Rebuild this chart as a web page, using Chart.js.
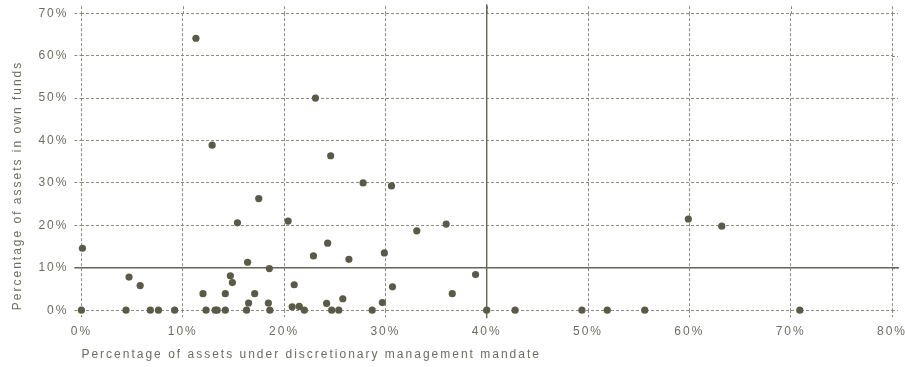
<!DOCTYPE html>
<html>
<head>
<meta charset="utf-8">
<script src="https://cdn.jsdelivr.net/npm/chart.js@4/dist/chart.umd.min.js"></script>
<style>
  html, body { margin: 0; padding: 0; background: #ffffff; }
  canvas { display: block; }
</style>
</head>
<body>
<canvas id="c" width="905" height="367"></canvas>
<script>
// Share of assets under discretionary management mandate (%), one entry per firm
const discretionaryShare = [
  0, 4.4, 6.8, 7.6, 9.2, 12.3, 13.2, 13.4, 14.2, 16.3, 18.6, 22.0, 24.7, 25.4,
  28.7, 40.0, 42.8, 49.4, 51.9, 55.6, 70.9,
  0.1, 4.7, 5.8, 11.3, 12.0, 12.9, 14.2, 14.7, 14.9, 15.4, 16.4, 16.5, 17.1,
  17.5, 18.45, 18.55, 20.4, 20.8, 21.0, 21.5, 22.9, 23.1, 24.2, 24.3, 24.6,
  25.8, 26.4, 27.8, 29.7, 29.9, 30.6, 30.7, 33.1, 36.0, 36.6, 38.9, 59.9, 63.2
];
// Share of assets invested in the firm's own funds (%), same order
const ownFundsShare = [
  0, 0, 0, 0, 0, 0, 0, 0, 0, 0, 0, 0, 0, 0,
  0, 0, 0, 0, 0, 0, 0,
  14.6, 7.8, 5.8, 64.1, 3.9, 38.9, 3.9, 8.1, 6.5, 20.6, 11.3, 1.7, 3.9,
  26.3, 1.7, 9.8, 21.0, 0.8, 6.0, 0.9, 12.8, 50.0, 1.6, 15.8, 36.4,
  2.7, 12.0, 30.0, 1.8, 13.5, 29.3, 5.5, 18.7, 20.3, 3.9, 8.4, 21.5, 19.8
];
// Reference thresholds drawn as solid lines
const xThreshold = 40;
const yThreshold = 10;

const points = discretionaryShare.map((x, i) => ({ x: x, y: ownFundsShare[i] }));

const ink = '#5a5a47';
const textColor = '#6c6c60';
const gridColor = '#8c8c7c';
const lineColor = '#66665a';
const dash = [3, 2];

// Wide tracking for all chart text (set before measuring and before drawing)
const tracking = {
  id: 'tracking',
  beforeUpdate(chart) { chart.ctx.letterSpacing = '2px'; },
  beforeDraw(chart) { chart.ctx.letterSpacing = '2px'; }
};

// Grid overshoot past the top and right edges, plus the solid threshold lines
const thresholdLines = {
  id: 'thresholdLines',
  beforeDatasetsDraw(chart) {
    const { ctx, chartArea, scales } = chart;
    ctx.save();
    ctx.lineWidth = 1;
    ctx.strokeStyle = gridColor;
    ctx.setLineDash(dash);
    ctx.beginPath();
    scales.x.ticks.forEach(t => {
      const px = Math.round(scales.x.getPixelForValue(t.value)) + 0.5;
      ctx.moveTo(px, chartArea.top - 7);
      ctx.lineTo(px, chartArea.top);
    });
    scales.y.ticks.forEach(t => {
      const py = Math.round(scales.y.getPixelForValue(t.value)) + 0.5;
      ctx.moveTo(chartArea.right, py);
      ctx.lineTo(chartArea.right + 6, py);
    });
    ctx.stroke();

    const xp = scales.x.getPixelForValue(xThreshold);
    const yp = scales.y.getPixelForValue(yThreshold);
    ctx.strokeStyle = lineColor;
    ctx.lineWidth = 1.4;
    ctx.setLineDash([]);
    ctx.beginPath();
    ctx.moveTo(xp, chartArea.top - 9);
    ctx.lineTo(xp, chartArea.bottom + 8);
    ctx.moveTo(chartArea.left - 7, yp);
    ctx.lineTo(chartArea.right + 7, yp);
    ctx.stroke();
    ctx.restore();
  }
};

Chart.defaults.font.family = '"Liberation Sans", Arial, Helvetica, sans-serif';
Chart.defaults.font.size = 12;
Chart.defaults.color = textColor;

new Chart(document.getElementById('c'), {
  type: 'scatter',
  data: {
    datasets: [{
      data: points,
      backgroundColor: ink,
      borderColor: ink,
      pointRadius: 3.6,
      pointHoverRadius: 3.6,
      borderWidth: 0,
      clip: false
    }]
  },
  options: {
    responsive: false,
    devicePixelRatio: 1,
    animation: false,
    layout: { padding: { top: 8, right: 0, left: 10, bottom: 0 } },
    plugins: {
      legend: { display: false },
      tooltip: { enabled: false }
    },
    scales: {
      x: {
        type: 'linear',
        min: 0,
        max: 80,
        afterFit(scale) { scale.paddingRight = 13; },
        ticks: {
          stepSize: 10,
          padding: 7,
          color: textColor,
          callback: v => v + '%'
        },
        grid: {
          color: gridColor,
          lineWidth: 1,
          tickLength: 7,
          tickColor: gridColor,
          tickBorderDash: dash
        },
        border: { display: false, dash: dash },
        title: {
          display: true,
          text: 'Percentage of assets under discretionary management mandate',
          align: 'start',
          color: textColor,
          padding: { top: 2, bottom: 5 }
        }
      },
      y: {
        type: 'linear',
        min: 0,
        max: 70,
        ticks: {
          stepSize: 10,
          padding: 6,
          color: textColor,
          callback: v => v + '%'
        },
        grid: {
          color: gridColor,
          lineWidth: 1,
          tickLength: 7,
          tickColor: gridColor,
          tickBorderDash: dash
        },
        border: { display: false, dash: dash },
        title: {
          display: true,
          text: 'Percentage of assets in own funds',
          align: 'start',
          color: textColor,
          padding: { top: 0, bottom: 8 }
        }
      }
    }
  },
  plugins: [tracking, thresholdLines]
});
</script>
</body>
</html>
